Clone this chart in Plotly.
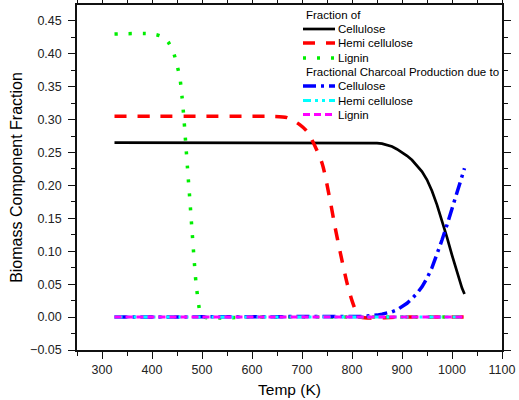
import plotly.graph_objects as go

# ---------------- data ----------------
temp_cell = [325, 400, 500, 600, 700, 800, 830, 840, 850, 860, 870, 880, 890, 900, 910, 920, 930, 940, 950,
             960, 970, 980, 990, 1000, 1010, 1020, 1025]
frac_cell = [0.265, 0.265, 0.265, 0.265, 0.265, 0.265, 0.2650, 0.2648, 0.2643, 0.2635, 0.2618, 0.2590, 0.2550,
             0.2505, 0.2450, 0.2385, 0.2305, 0.2210, 0.2085, 0.1915, 0.1705, 0.1470, 0.1210, 0.0940, 0.0670,
             0.0440, 0.0350]

temp_hemi = [325, 400, 500, 600, 640, 670, 696, 710, 720, 740, 756, 766, 776, 790, 800, 810, 818, 900, 1025]
frac_hemi = [0.305, 0.305, 0.305, 0.305, 0.305, 0.303, 0.292, 0.282, 0.269, 0.234, 0.178, 0.137, 0.100, 0.052,
             0.025, 0.006, 0.0, 0.0, 0.0]

temp_lig = [325, 400, 420, 432, 442, 450, 456, 460, 464, 468, 472, 476, 480, 484, 488, 492, 497, 505, 600, 1025]
frac_lig = [0.43, 0.43, 0.426, 0.418, 0.404, 0.383, 0.362, 0.335, 0.30, 0.258, 0.216, 0.175, 0.132, 0.09, 0.052,
            0.027, 0.006, 0.0, 0.0, 0.0]

temp_char_cell = [325, 500, 700, 780, 800, 810, 820, 830, 840, 850, 860, 870, 880, 890, 900, 910, 920, 930, 940,
                  950, 960, 970, 980, 990, 1000, 1010, 1020, 1025]
char_cell = [0.0, 0.0, 0.0, 0.0, 0.0003, 0.0006, 0.001, 0.0015, 0.002, 0.003, 0.0045, 0.006, 0.008, 0.011, 0.0155,
             0.021, 0.028, 0.036, 0.046, 0.059, 0.075, 0.095, 0.117, 0.140, 0.164, 0.189, 0.214, 0.226]

temp_char_hemi = [325, 1025]
char_hemi = [0.0, 0.0]

temp_char_lig = [325, 1025]
char_lig = [0.0, 0.0]

group1_title = "Fraction of"
group2_title = "Fractional Charcoal Production due to"
names = ["Cellulose", "Hemi cellulose", "Lignin"]

x_ticks = [300, 400, 500, 600, 700, 800, 900, 1000, 1100]
y_ticks = [-0.05, 0.00, 0.05, 0.10, 0.15, 0.20, 0.25, 0.30, 0.35, 0.40, 0.45]

# ---------------- styles ----------------
FONT = "Liberation Sans, Arial, sans-serif"
styles = [
    dict(color="black", width=2.7, dash="solid", shape="linear"),
    dict(color="#ff0000", width=3.5, dash="12px,11px", shape="spline"),
    dict(color="#00ee00", width=3.5, dash="3px,11px", shape="spline"),
    dict(color="#0000ff", width=3.5, dash="13px,5px,3px,5px", shape="linear"),
    dict(color="#00ffff", width=3, dash="8px,4px,3px,4px,3px,4px", shape="linear"),
    dict(color="#ff00ff", width=3, dash="7px,4px", shape="linear"),
]

series = [
    (temp_cell, frac_cell),
    (temp_hemi, frac_hemi),
    (temp_lig, frac_lig),
    (temp_char_cell, char_cell),
    (temp_char_hemi, char_hemi),
    (temp_char_lig, char_lig),
]

fig = go.Figure()
for (tx, vy), st in zip(series, styles):
    line = dict(color=st["color"], width=st["width"], dash=st["dash"], shape=st["shape"])
    if st["shape"] == "spline":
        line["smoothing"] = 0.8
    fig.add_trace(go.Scatter(x=tx, y=vy, mode="lines", line=line,
                             showlegend=False, hoverinfo="skip"))

# ---------------- layout ----------------
W, H = 519, 400
ML, MR, MT, MB = 77, 17, 5, 50
pw, ph = W - ML - MR, H - MT - MB

def px2paper(px, py):
    return (px - ML) / pw, (H - MB - py) / ph

# manual legend
rows = [group1_title] + names + [group2_title] + names
row_y = [15, 29, 43, 58, 72, 86, 100.5, 114.5]
annotations = []
shapes = []
style_idx = 0
for i, (label, yy) in enumerate(zip(rows, row_y)):
    if i in (0, 4):
        xp, yp = px2paper(304, yy)
        annotations.append(dict(x=xp, y=yp, xref="paper", yref="paper", text=label,
                                showarrow=False, xanchor="left", yanchor="middle",
                                font=dict(family=FONT, size=11.5, color="black")))
    else:
        st = styles[style_idx]
        style_idx += 1
        x0, y0 = px2paper(303, yy)
        x1, _ = px2paper(335, yy)
        shapes.append(dict(type="line", xref="paper", yref="paper", x0=x0, x1=x1, y0=y0, y1=y0,
                           line=dict(color=st["color"], width=st["width"], dash=st["dash"])))
        xt, _ = px2paper(336, yy)
        annotations.append(dict(x=xt, y=y0, xref="paper", yref="paper", text=label,
                                showarrow=False, xanchor="left", yanchor="middle",
                                font=dict(family=FONT, size=11.5, color="black")))

axis_common = dict(showline=True, linecolor="#111", linewidth=1.5, mirror="allticks",
                   ticks="outside", ticklen=7, tickwidth=1.2, tickcolor="#111",
                   showgrid=False, zeroline=False, automargin=False,
                   tickfont=dict(family=FONT, size=12.5, color="#222"))

fig.update_layout(
    width=W, height=H,
    margin=dict(l=ML, r=MR, t=MT, b=MB, autoexpand=False),
    paper_bgcolor="white", plot_bgcolor="white",
    font=dict(family=FONT, color="black"),
    xaxis=dict(range=[250, 1100], tickvals=x_ticks,
               minor=dict(ticks="outside", dtick=50, tick0=250, ticklen=4, tickcolor="#111"),
               title=dict(text="Temp (K)", font=dict(family=FONT, size=15.5), standoff=8),
               **axis_common),
    yaxis=dict(range=[-0.05, 0.474], tickvals=y_ticks, tickformat=".2f",
               ticklabelstandoff=4,
               minor=dict(ticks="outside", dtick=0.025, tick0=-0.05, ticklen=4, tickcolor="#111"),
               title=dict(text="Biomass Component Fraction", font=dict(family=FONT, size=16), standoff=4),
               **axis_common),
    annotations=annotations,
    shapes=shapes,
)

fig.write_html("out.html", config={"displayModeBar": False},
               post_script="document.body.style.margin='0';document.body.style.padding='0';")
